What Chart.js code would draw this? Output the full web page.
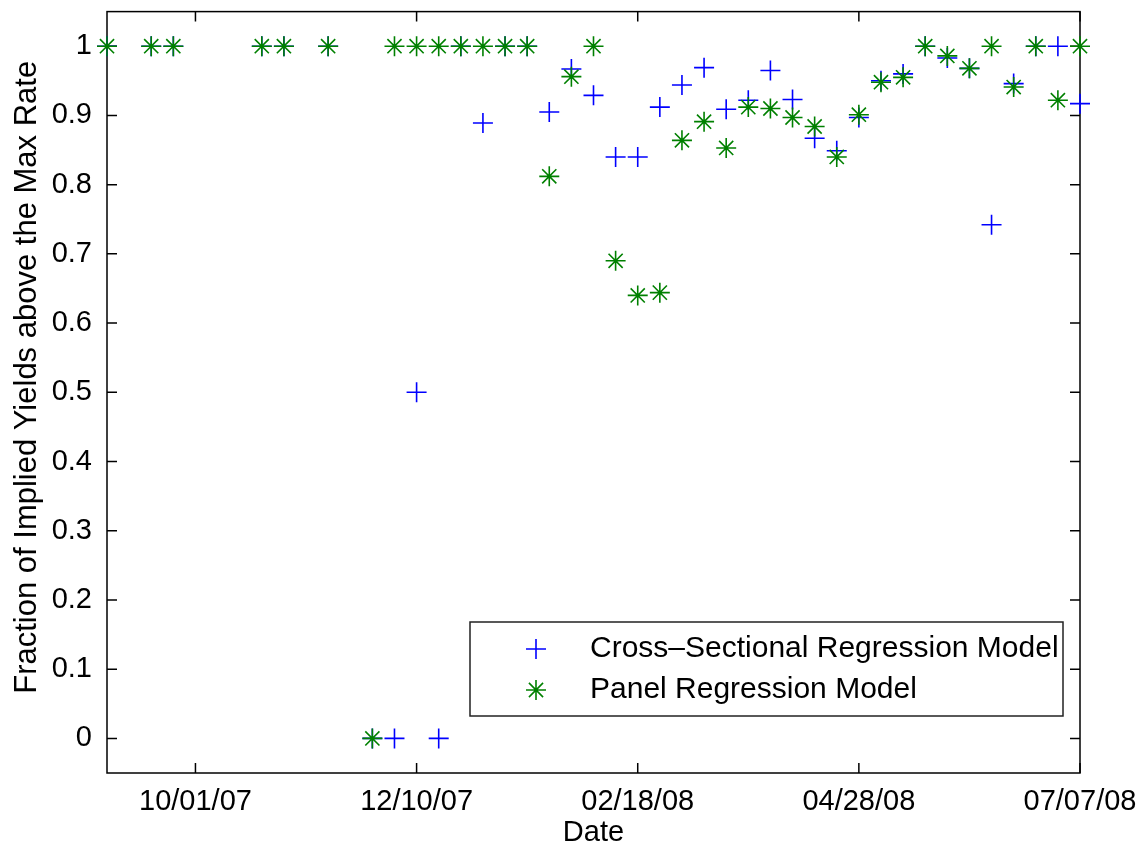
<!DOCTYPE html>
<html><head><meta charset="utf-8">
<script src="https://cdn.jsdelivr.net/npm/chart.js@4/dist/chart.umd.min.js"></script>
<style>html,body{margin:0;padding:0;background:#fff}#wrap{width:1146px;height:852px}canvas{display:block}</style>
</head><body><div id="wrap"><canvas id="c" width="1146" height="852"></canvas></div>
<script>
const weekDates = ['09/03/07','09/10/07','09/17/07','09/24/07','10/01/07','10/08/07','10/15/07','10/22/07','10/29/07','11/05/07',
  '11/12/07','11/19/07','11/26/07','12/03/07','12/10/07','12/17/07','12/24/07','12/31/07','01/07/08','01/14/08',
  '01/21/08','01/28/08','02/04/08','02/11/08','02/18/08','02/25/08','03/03/08','03/10/08','03/17/08','03/24/08',
  '03/31/08','04/07/08','04/14/08','04/21/08','04/28/08','05/05/08','05/12/08','05/19/08','05/26/08','06/02/08',
  '06/09/08','06/16/08','06/23/08','06/30/08','07/07/08'];
const xTickLabels = ['10/01/07','12/10/07','02/18/08','04/28/08','07/07/08'];
const yTickValues = [0,0.1,0.2,0.3,0.4,0.5,0.6,0.7,0.8,0.9,1];
const yTickLabels = ['0','0.1','0.2','0.3','0.4','0.5','0.6','0.7','0.8','0.9','1'];
const crossSectional = [1,null,1,1,null,null,null,1,1,null,
  1,null,0,0,0.5,0,1,0.889,1,1,
  0.905,0.967,0.929,0.840,0.840,0.912,0.944,0.969,0.909,0.922,
  0.965,0.923,0.867,0.849,0.897,0.950,0.960,1,0.983,0.968,
  0.742,0.946,1,1,0.917];
const panel = [1,null,1,1,null,null,null,1,1,null,
  1,null,0,1,1,1,1,1,1,1,
  0.812,0.956,1,0.690,0.640,0.644,0.864,0.891,0.853,0.912,
  0.910,0.897,0.884,0.840,0.901,0.948,0.955,1,0.986,0.968,
  1,0.941,1,0.922,1];
const seriesNames = ['Cross\u2013Sectional Regression Model','Panel Regression Model'];
const xTitle = 'Date';
const yTitle = 'Fraction of Implied Yields above the Max Rate';

const FONT = "'Liberation Sans', Arial, Helvetica, sans-serif";
const BLUE = '#0000ff', GREEN = '#008000';

const framePlugin = {
  id: 'frame',
  beforeDatasetsDraw(chart) {
    const {ctx, chartArea: a, scales: {x, y}} = chart;
    ctx.save();
    ctx.strokeStyle = '#000'; ctx.lineWidth = 1.5;
    ctx.strokeRect(a.left, a.top, a.right - a.left, a.bottom - a.top);
    const L = 10;
    ctx.beginPath();
    y.ticks.forEach((t, i) => { const py = y.getPixelForTick(i);
      ctx.moveTo(a.left, py); ctx.lineTo(a.left + L, py);
      ctx.moveTo(a.right, py); ctx.lineTo(a.right - L, py); });
    x.ticks.forEach((t, i) => { const px = x.getPixelForTick(i);
      ctx.moveTo(px, a.bottom); ctx.lineTo(px, a.bottom - L);
      ctx.moveTo(px, a.top); ctx.lineTo(px, a.top + L); });
    ctx.stroke();
    // y-axis title
    ctx.fillStyle = '#000';
    ctx.font = '31px ' + FONT;
    ctx.textAlign = 'center'; ctx.textBaseline = 'middle';
    ctx.translate(a.left - 80, (a.top + a.bottom) / 2 - 15);
    ctx.rotate(-Math.PI / 2);
    ctx.fillText(yTitle, 0, 0);
    ctx.restore();
  }
};

const legendPlugin = {
  id: 'boxLegend',
  afterDraw(chart) {
    const {ctx, chartArea: a} = chart;
    const bw = 593, bh = 94;
    const bx = a.right - 17 - bw, by = a.bottom - 57 - bh;
    ctx.save();
    ctx.fillStyle = '#fff';
    ctx.fillRect(bx, by, bw, bh);
    ctx.strokeStyle = '#222'; ctx.lineWidth = 1.5;
    ctx.strokeRect(bx, by, bw, bh);
    chart.data.datasets.forEach((ds, i) => {
      const yy = by + 27 + i * 41;
      ctx.strokeStyle = ds.pointBorderColor; ctx.fillStyle = ds.pointBorderColor;
      ctx.lineWidth = ds.pointBorderWidth;
      Chart.helpers.drawPoint(ctx, {pointStyle: ds.pointStyle, radius: ds.pointRadius, rotation: 0, borderWidth: ds.pointBorderWidth}, bx + 66, yy);
      ctx.fillStyle = '#000';
      ctx.font = '30px ' + FONT;
      ctx.textBaseline = 'middle'; ctx.textAlign = 'left';
      ctx.fillText(ds.label, bx + 120, yy);
    });
    ctx.restore();
  }
};

new Chart(document.getElementById('c').getContext('2d'), {
  type: 'line',
  data: {
    labels: weekDates,
    datasets: [
      {label: seriesNames[0], data: crossSectional, showLine: false, pointStyle: 'cross', pointRadius: 10,
       pointBorderColor: BLUE, pointBackgroundColor: BLUE, pointBorderWidth: 1.6, borderColor: BLUE, order: 1, clip: false},
      {label: seriesNames[1], data: panel, showLine: false, pointStyle: 'star', pointRadius: 10,
       pointBorderColor: GREEN, pointBackgroundColor: GREEN, pointBorderWidth: 1.6, borderColor: GREEN, order: 0, clip: false}
    ]
  },
  options: {
    responsive: false, animation: false, devicePixelRatio: 1,
    layout: {padding: {left: 0, right: 66, top: 8, bottom: 0}},
    plugins: {legend: {display: false}, tooltip: {enabled: false}},
    elements: {point: {hoverRadius: 10}},
    scales: {
      x: {
        type: 'category', offset: false,
        grid: {display: false, drawTicks: false}, border: {display: false},
        ticks: {autoSkip: false, maxRotation: 0, minRotation: 0, padding: 12, color: '#000', font: {family: FONT, size: 29}},
        afterBuildTicks: s => { s.ticks = s.ticks.filter(t => xTickLabels.includes(weekDates[t.value])); },
        afterFit: s => { s.height = 79; s.paddingLeft = 0; s.paddingRight = 0; },
        title: {display: true, text: xTitle, color: '#000', font: {family: FONT, size: 29}, padding: {top: 0, bottom: 2}}
      },
      y: {
        type: 'linear', min: -0.05, max: 1.05,
        grid: {display: false, drawTicks: false}, border: {display: false},
        afterBuildTicks: s => { s.ticks = yTickValues.map(v => ({value: v})); },
        ticks: {padding: 15, color: '#000', font: {family: FONT, size: 29},
          callback: v => { const i = yTickValues.findIndex(t => Math.abs(t - v) < 1e-9); return i >= 0 ? yTickLabels[i] : ''; }},
        afterFit: s => { s.width = 107; s.paddingTop = 0; s.paddingBottom = 0; },
        title: {display: false, text: yTitle}
      }
    }
  },
  plugins: [framePlugin, legendPlugin]
});
</script>
</body></html>
